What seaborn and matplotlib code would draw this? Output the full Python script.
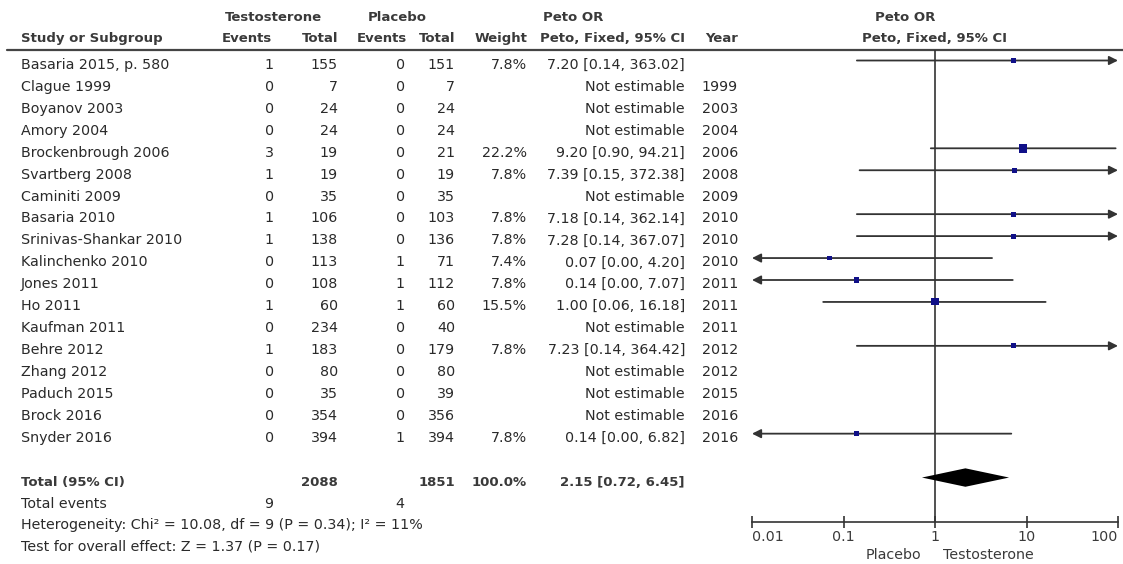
import numpy as np
import pandas as pd
import matplotlib
matplotlib.use("Agg")
import matplotlib.pyplot as plt
import seaborn as sns

studies = ["Basaria 2015, p. 580", "Clague 1999", "Boyanov 2003", "Amory 2004",
           "Brockenbrough 2006", "Svartberg 2008", "Caminiti 2009", "Basaria 2010",
           "Srinivas-Shankar 2010", "Kalinchenko 2010", "Jones 2011", "Ho 2011",
           "Kaufman 2011", "Behre 2012", "Zhang 2012", "Paduch 2015", "Brock 2016",
           "Snyder 2016"]
t_events = [1, 0, 0, 0, 3, 1, 0, 1, 1, 0, 0, 1, 0, 1, 0, 0, 0, 0]
t_total = [155, 7, 24, 24, 19, 19, 35, 106, 138, 113, 108, 60, 234, 183, 80, 35, 354, 394]
p_events = [0, 0, 0, 0, 0, 0, 0, 0, 0, 1, 1, 1, 0, 0, 0, 0, 0, 1]
p_total = [151, 7, 24, 24, 21, 19, 35, 103, 136, 71, 112, 60, 40, 179, 80, 39, 356, 394]
weights = [7.8, None, None, None, 22.2, 7.8, None, 7.8, 7.8, 7.4, 7.8, 15.5,
           None, 7.8, None, None, None, 7.8]
odds = [7.20, None, None, None, 9.20, 7.39, None, 7.18, 7.28, 0.07, 0.14, 1.00,
        None, 7.23, None, None, None, 0.14]
ci_low = [0.14, None, None, None, 0.90, 0.15, None, 0.14, 0.14, 0.00, 0.00, 0.06,
          None, 0.14, None, None, None, 0.00]
ci_high = [363.02, None, None, None, 94.21, 372.38, None, 362.14, 367.07, 4.20, 7.07, 16.18,
           None, 364.42, None, None, None, 6.82]
years = ["", "1999", "2003", "2004", "2006", "2008", "2009", "2010", "2010", "2010",
         "2011", "2011", "2011", "2012", "2012", "2015", "2016", "2016"]

total_t, total_p = 2088, 1851
total_weight = 100.0
total_or, total_lo, total_hi = 2.15, 0.72, 6.45
events_t, events_p = 9, 4
het_text = "Heterogeneity: Chi\u00b2 = 10.08, df = 9 (P = 0.34); I\u00b2 = 11%"
effect_text = "Test for overall effect: Z = 1.37 (P = 0.17)"
ticks = [0.01, 0.1, 1, 10, 100]
tick_labels = ["0.01", "0.1", "1", "10", "100"]

df = pd.DataFrame({"study": studies, "weight": weights, "or": odds,
                   "lo": ci_low, "hi": ci_high})
df["row"] = np.arange(len(df))

sns.set_theme(style="white")
plt.rcParams["font.family"] = ["DejaVu Sans"]

W, H = 1123, 564
fig = plt.figure(figsize=(W / 100, H / 100), dpi=100)

# row geometry (pixels)
y0, dy = 60.5, 21.95
def px_to_row(p):
    return (p - y0) / dy

txt = fig.add_axes([0, 0, 1, 1])
txt.set_xlim(0, W)
txt.set_ylim(px_to_row(H), px_to_row(0))
txt.axis("off")

body = "#2a2a2a"
head = "#3a3a3a"
fs = 10.3
fsb = 9.5
off = 0.38

# headers
hb = dict(fontsize=fsb, fontweight="bold", color=head, va="baseline")
r1, r2 = px_to_row(21), px_to_row(42)
txt.text(273, r1, "Testosterone", ha="center", **hb)
txt.text(397, r1, "Placebo", ha="center", **hb)
txt.text(543, r1, "Peto OR", ha="left", **hb)
txt.text(905, r1, "Peto OR", ha="center", **hb)
txt.text(21, r2, "Study or Subgroup", ha="left", **hb)
txt.text(272, r2, "Events", ha="right", **hb)
txt.text(338, r2, "Total", ha="right", **hb)
txt.text(407, r2, "Events", ha="right", **hb)
txt.text(455, r2, "Total", ha="right", **hb)
txt.text(527, r2, "Weight", ha="right", **hb)
txt.text(685, r2, "Peto, Fixed, 95% CI", ha="right", **hb)
txt.text(738, r2, "Year", ha="right", **hb)
txt.text(935, r2, "Peto, Fixed, 95% CI", ha="center", **hb)
txt.plot([7, W], [px_to_row(49.5)] * 2, color="#444444", lw=1.6)

# study rows
tb = dict(fontsize=fs, color=body, va="baseline")
for i in range(len(studies)):
    y = i + off
    txt.text(21, y, studies[i], ha="left", **tb)
    txt.text(274, y, str(t_events[i]), ha="right", **tb)
    txt.text(338, y, str(t_total[i]), ha="right", **tb)
    txt.text(405, y, str(p_events[i]), ha="right", **tb)
    txt.text(455, y, str(p_total[i]), ha="right", **tb)
    if weights[i] is not None:
        txt.text(527, y, f"{weights[i]:.1f}%", ha="right", **tb)
        txt.text(685, y, f"{odds[i]:.2f} [{ci_low[i]:.2f}, {ci_high[i]:.2f}]", ha="right", **tb)
    else:
        txt.text(685, y, "Not estimable", ha="right", **tb)
    txt.text(738, y, years[i], ha="right", **tb)

# totals
bb = dict(fontsize=fsb, fontweight="bold", color=head, va="baseline")
rt = px_to_row(486)
txt.text(21, rt, "Total (95% CI)", ha="left", **bb)
txt.text(338, rt, str(total_t), ha="right", **bb)
txt.text(455, rt, str(total_p), ha="right", **bb)
txt.text(527, rt, f"{total_weight:.1f}%", ha="right", **bb)
txt.text(685, rt, f"{total_or:.2f} [{total_lo:.2f}, {total_hi:.2f}]", ha="right", **bb)
re = px_to_row(508)
txt.text(21, re, "Total events", ha="left", **tb)
txt.text(273, re, str(events_t), ha="right", **tb)
txt.text(404, re, str(events_p), ha="right", **tb)
txt.text(21, px_to_row(529), het_text, ha="left", **tb)
txt.text(21, px_to_row(550), effect_text, ha="left", **tb)
txt.text(921, px_to_row(559), "Placebo", ha="right", fontsize=fs, color=head, va="baseline")
txt.text(943, px_to_row(559), "Testosterone", ha="left", fontsize=fs, color=head, va="baseline")

# forest panel
xl, xr, yt, yb = 752, 1118, 50, 522
ax = fig.add_axes([xl / W, 1 - yb / H, (xr - xl) / W, (yb - yt) / H])
ax.patch.set_alpha(0)
ax.set_xscale("log")
ax.set_xlim(ticks[0], ticks[-1])
ax.set_ylim(px_to_row(yb), px_to_row(yt))

line_col = "#333333"
ax.axvline(1, color=line_col, lw=1.2)

est = df.dropna(subset=["or"])
for _, r in est.iterrows():
    lo = max(r["lo"], ticks[0])
    hi = min(r["hi"], ticks[-1])
    left_clip = r["lo"] < ticks[0]
    right_clip = r["hi"] > ticks[-1]
    style = {(False, False): "-", (True, False): "<|-",
             (False, True): "-|>", (True, True): "<|-|>"}[(left_clip, right_clip)]
    ax.annotate("", xy=(hi, r["row"]), xytext=(lo, r["row"]),
                arrowprops=dict(arrowstyle=style, color=line_col, lw=1.3,
                                shrinkA=0, shrinkB=0, mutation_scale=13))

side_px = lambda w: 1.8 * np.sqrt(w)
s_of = lambda w: (side_px(w) * 0.72) ** 2
sns.scatterplot(data=est, x="or", y="row", size="weight",
                sizes=(s_of(est["weight"].min()), s_of(est["weight"].max())),
                size_norm=(est["weight"].min(), est["weight"].max()),
                marker="s", color="#101088", edgecolor="none", legend=False,
                ax=ax, zorder=5)

dh = 0.42
ax.fill([total_lo, total_or, total_hi, total_or],
        [19, 19 - dh, 19, 19 + dh], color="black", lw=0, zorder=6)

ax.set_xticks(ticks)
ax.set_xticklabels(tick_labels)
ax.minorticks_off()
ax.set_yticks([])
ax.set_xlabel("")
ax.set_ylabel("")
for s in ["top", "left", "right"]:
    ax.spines[s].set_visible(False)
ax.spines["bottom"].set_color(line_col)
ax.spines["bottom"].set_linewidth(1.2)
ax.tick_params(axis="x", direction="inout", length=9, width=1.2, color=line_col,
               labelsize=fs, labelcolor=head, pad=1, bottom=True)
labs = ax.get_xticklabels()
labs[0].set_ha("left")
labs[-1].set_ha("right")

fig.savefig("out.png", dpi=100)
